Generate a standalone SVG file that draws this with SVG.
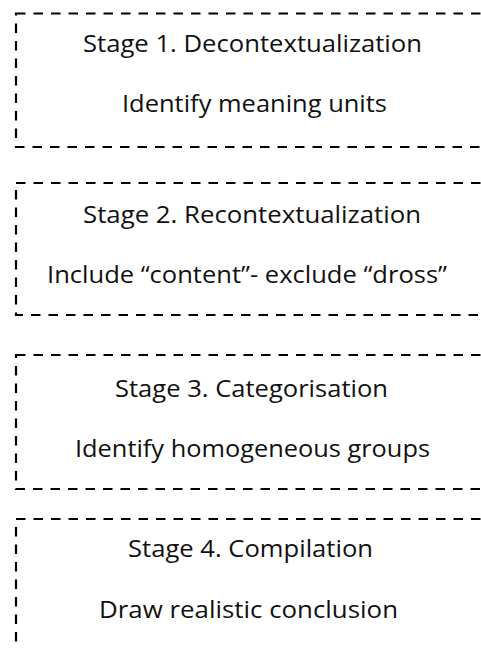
<svg xmlns="http://www.w3.org/2000/svg" width="481" height="648" viewBox="0 0 481 648">
<style>
.box{fill:none;stroke:#000;stroke-width:2.2;stroke-dasharray:9.5 8}
.t{font-family:"Open Sans","Lato","Liberation Sans",sans-serif;font-size:24px;fill:#111;text-anchor:middle}
</style>
<rect width="481" height="648" fill="#fff"/>
<g id="stage1">
<rect class="box" x="16" y="13.5" width="480" height="133.5"/>
<text class="t" x="252.5" y="52" textLength="339" lengthAdjust="spacingAndGlyphs">Stage 1. Decontextualization</text>
<text class="t" x="254.5" y="112" textLength="265" lengthAdjust="spacingAndGlyphs">Identify meaning units</text>
</g>
<g id="stage2">
<rect class="box" x="16" y="183" width="480" height="132"/>
<text class="t" x="252" y="223" textLength="338" lengthAdjust="spacingAndGlyphs">Stage 2. Recontextualization</text>
<text class="t" x="247" y="283" textLength="400" lengthAdjust="spacingAndGlyphs">Include “content”- exclude “dross”</text>
</g>
<g id="stage3">
<rect class="box" x="16" y="355" width="480" height="134"/>
<text class="t" x="251.5" y="397" textLength="273" lengthAdjust="spacingAndGlyphs">Stage 3. Categorisation</text>
<text class="t" x="252.5" y="457" textLength="355" lengthAdjust="spacingAndGlyphs">Identify homogeneous groups</text>
</g>
<g id="stage4">
<rect class="box" x="16" y="519" width="480" height="150"/>
<text class="t" x="250.5" y="557" textLength="245" lengthAdjust="spacingAndGlyphs">Stage 4. Compilation</text>
<text class="t" x="248.5" y="618" textLength="299" lengthAdjust="spacingAndGlyphs">Draw realistic conclusion</text>
</g>
<g id="connectors"/>
</svg>
